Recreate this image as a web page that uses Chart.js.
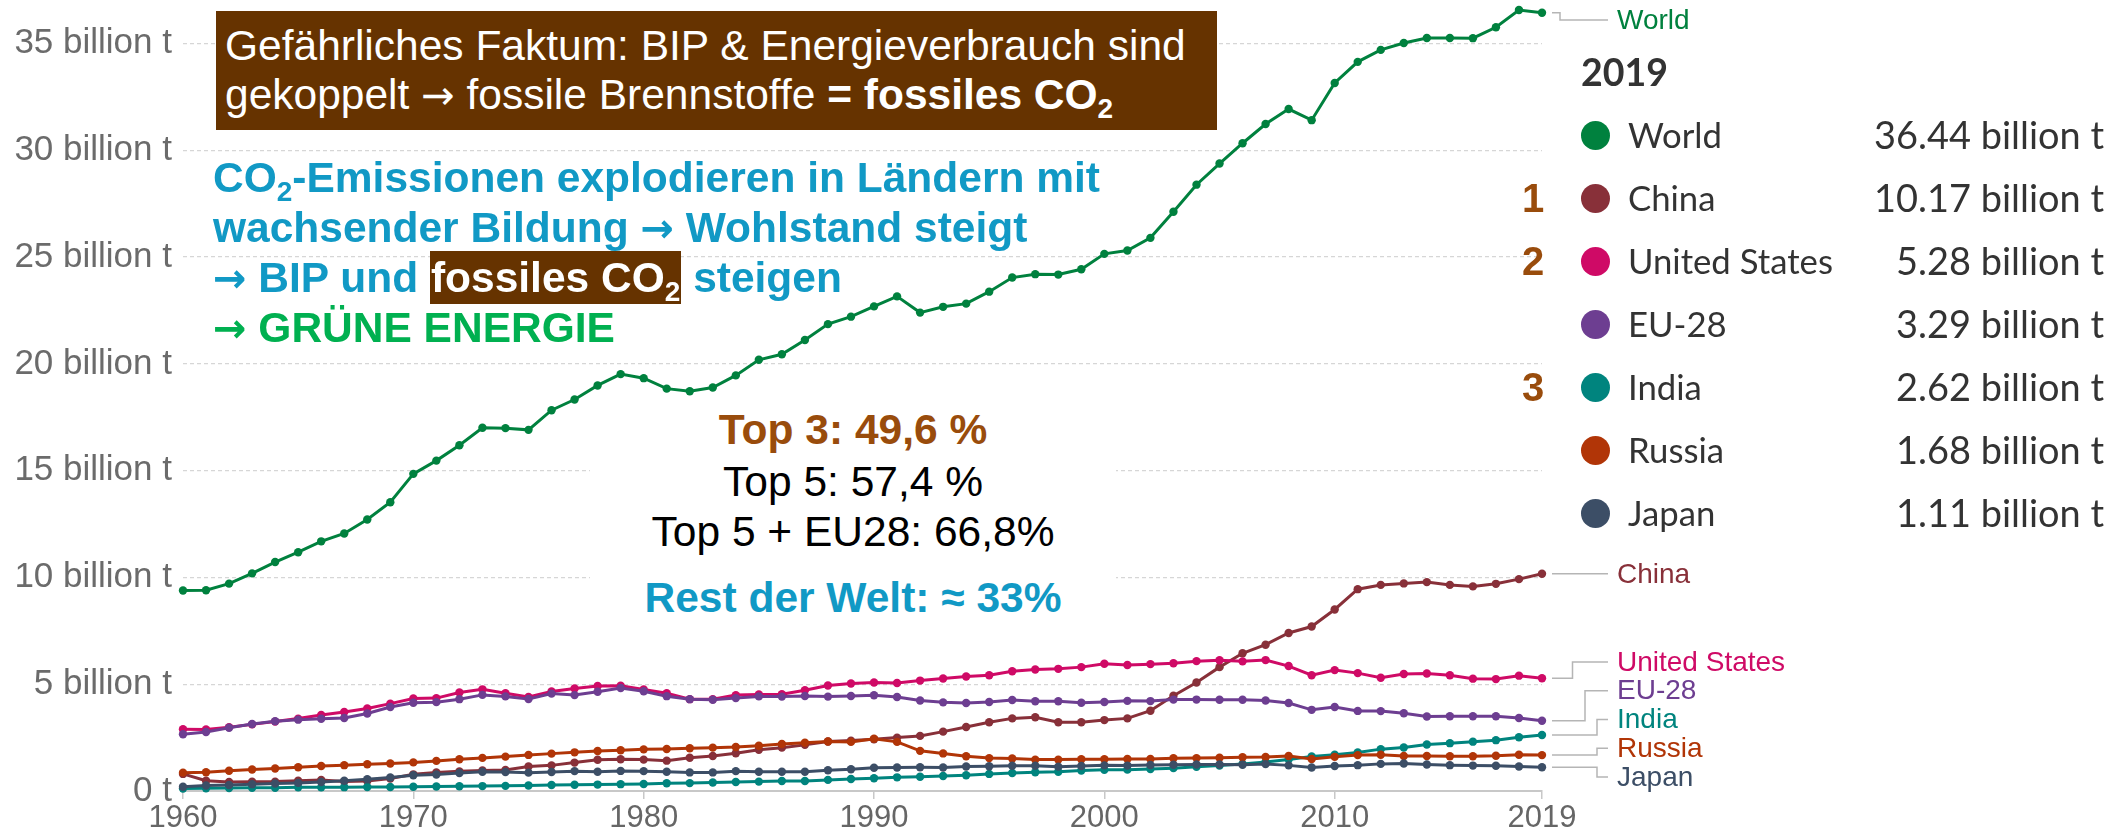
<!DOCTYPE html>
<html>
<head>
<meta charset="utf-8">
<script src="https://cdn.jsdelivr.net/npm/chart.js@4.4.1/dist/chart.umd.min.js"></script>
<style>
  body { margin: 0; background: #fff; }
  #wrap { position: relative; width: 2121px; height: 836px; overflow: hidden; font-family: "Liberation Sans", Arial, sans-serif; }
  #c { position: absolute; left: 0; top: 0; }
  .abs { position: absolute; white-space: nowrap; }
  .ln42 { font-size: 42.5px; line-height: 42px; }
  .b { font-weight: bold; }
  .sub { font-size: 28px; vertical-align: -9px; }
  .arr { font-family: "DejaVu Sans", sans-serif; font-size: 40px; }
  .lg { font-family: Lato, sans-serif; line-height: 40px; height: 40px; color: #333; }
  .dot { position: absolute; width: 29px; height: 29px; border-radius: 50%; }
  .rank { font-weight: bold; font-size: 40px; line-height: 40px; color: #994c0c; width: 30px; text-align: center; }
</style>
</head>
<body>
<div id="wrap">
  <canvas id="c" width="2121" height="836"></canvas>

  <!-- title box -->
  <div class="abs" style="left:216px; top:11px; width:1001px; height:119px; background:#663300;"></div>
  <div class="abs ln42" style="left:225px; top:25px; color:#fff;">Gefährliches Faktum: BIP &amp; Energieverbrauch sind</div>
  <div class="abs ln42" style="left:225px; top:74px; color:#fff;">gekoppelt <span class="arr" style="font-weight:normal;">→</span> fossile Brennstoffe <span class="b">= fossiles CO<span class="sub">2</span></span></div>

  <!-- blue statement -->
  <div class="abs ln42 b" style="left:213px; top:157px; color:#1199c5;">CO<span class="sub">2</span>-Emissionen explodieren in Ländern mit</div>
  <div class="abs ln42 b" style="left:213px; top:207px; color:#1199c5;">wachsender Bildung <span class="arr">→</span> Wohlstand steigt</div>
  <div class="abs ln42 b" style="left:213px; top:257px; color:#1199c5;"><span class="arr">→</span> BIP und <span style="background:#663300; color:#fff; padding:3px 1px;">fossiles CO<span class="sub">2</span></span> steigen</div>
  <div class="abs ln42 b" style="left:213px; top:307px; color:#00b050;"><span class="arr">→</span> GRÜNE ENERGIE</div>

  <!-- shares -->
  <div class="abs" style="left:590px; top:398px; width:526px; height:242px; background:#fff;"></div>
  <div class="abs ln42 b" style="left:590px; width:526px; text-align:center; top:409px; color:#994c0c;">Top 3: 49,6 %</div>
  <div class="abs ln42" style="left:590px; width:526px; text-align:center; top:461px; color:#000;">Top 5: 57,4 %</div>
  <div class="abs ln42" style="left:590px; width:526px; text-align:center; top:511px; color:#000;">Top 5 + EU28: 66,8%</div>
  <div class="abs ln42 b" style="left:590px; width:526px; text-align:center; top:577px; color:#1199c5;">Rest der Welt: ≈ 33%</div>

  <div id="legend"></div>
</div>

<script>
const years = [1960, 1961, 1962, 1963, 1964, 1965, 1966, 1967, 1968, 1969,
  1970, 1971, 1972, 1973, 1974, 1975, 1976, 1977, 1978, 1979,
  1980, 1981, 1982, 1983, 1984, 1985, 1986, 1987, 1988, 1989,
  1990, 1991, 1992, 1993, 1994, 1995, 1996, 1997, 1998, 1999,
  2000, 2001, 2002, 2003, 2004, 2005, 2006, 2007, 2008, 2009,
  2010, 2011, 2012, 2013, 2014, 2015, 2016, 2017, 2018, 2019];

// billion tonnes CO2
const world = [9.39, 9.40, 9.71, 10.19, 10.72, 11.18, 11.69, 12.06, 12.71, 13.52,
  14.85, 15.47, 16.19, 17.01, 16.99, 16.91, 17.83, 18.33, 18.99, 19.52,
  19.33, 18.84, 18.72, 18.89, 19.46, 20.19, 20.45, 21.12, 21.86, 22.21,
  22.69, 23.16, 22.40, 22.67, 22.82, 23.38, 24.04, 24.20, 24.18, 24.43,
  25.15, 25.31, 25.90, 27.12, 28.39, 29.38, 30.33, 31.23, 31.93, 31.41,
  33.15, 34.14, 34.70, 35.02, 35.26, 35.26, 35.25, 35.76, 36.57, 36.44];
const china = [0.80, 0.48, 0.42, 0.43, 0.44, 0.48, 0.52, 0.45, 0.47, 0.58,
  0.78, 0.87, 0.92, 0.96, 0.98, 1.15, 1.20, 1.33, 1.46, 1.49,
  1.47, 1.42, 1.56, 1.64, 1.77, 1.93, 2.03, 2.16, 2.32, 2.36,
  2.42, 2.50, 2.58, 2.78, 3.00, 3.22, 3.40, 3.45, 3.22, 3.22,
  3.32, 3.40, 3.76, 4.46, 5.08, 5.80, 6.45, 6.85, 7.40, 7.70,
  8.50, 9.45, 9.65, 9.72, 9.78, 9.65, 9.58, 9.70, 9.92, 10.17];
const usa = [2.89, 2.88, 2.99, 3.12, 3.25, 3.39, 3.56, 3.70, 3.86, 4.09,
  4.33, 4.35, 4.61, 4.76, 4.58, 4.40, 4.66, 4.80, 4.92, 4.93,
  4.75, 4.58, 4.30, 4.30, 4.49, 4.52, 4.53, 4.72, 4.94, 5.03,
  5.08, 5.06, 5.17, 5.27, 5.36, 5.42, 5.61, 5.69, 5.72, 5.80,
  5.96, 5.90, 5.94, 5.98, 6.08, 6.12, 6.07, 6.13, 5.85, 5.42,
  5.66, 5.52, 5.30, 5.48, 5.50, 5.42, 5.26, 5.24, 5.40, 5.28];
const eu28 = [2.66, 2.76, 2.96, 3.14, 3.27, 3.34, 3.38, 3.42, 3.63, 3.93,
  4.13, 4.16, 4.30, 4.50, 4.43, 4.31, 4.56, 4.49, 4.65, 4.82,
  4.67, 4.44, 4.30, 4.27, 4.35, 4.43, 4.42, 4.45, 4.42, 4.45,
  4.48, 4.40, 4.24, 4.15, 4.12, 4.17, 4.26, 4.20, 4.20, 4.13,
  4.17, 4.22, 4.21, 4.28, 4.28, 4.27, 4.27, 4.24, 4.12, 3.80,
  3.93, 3.75, 3.74, 3.64, 3.49, 3.50, 3.50, 3.50, 3.42, 3.29];
const india = [0.12, 0.13, 0.14, 0.15, 0.15, 0.17, 0.17, 0.18, 0.19, 0.19,
  0.20, 0.21, 0.22, 0.23, 0.24, 0.26, 0.28, 0.29, 0.30, 0.32,
  0.33, 0.36, 0.37, 0.40, 0.42, 0.44, 0.47, 0.47, 0.52, 0.56,
  0.60, 0.64, 0.67, 0.70, 0.74, 0.80, 0.84, 0.88, 0.90, 0.96,
  0.99, 1.00, 1.03, 1.07, 1.13, 1.19, 1.26, 1.36, 1.48, 1.62,
  1.70, 1.80, 1.96, 2.04, 2.18, 2.24, 2.31, 2.38, 2.52, 2.62];
const russia = [0.86, 0.88, 0.95, 1.01, 1.05, 1.11, 1.17, 1.21, 1.25, 1.29,
  1.34, 1.41, 1.49, 1.55, 1.61, 1.69, 1.75, 1.81, 1.87, 1.91,
  1.95, 1.97, 2.00, 2.03, 2.06, 2.12, 2.20, 2.26, 2.32, 2.30,
  2.45, 2.30, 1.88, 1.76, 1.63, 1.54, 1.52, 1.47, 1.47, 1.49,
  1.49, 1.50, 1.50, 1.53, 1.54, 1.56, 1.58, 1.59, 1.64, 1.50,
  1.60, 1.68, 1.70, 1.64, 1.64, 1.63, 1.63, 1.65, 1.70, 1.68];
const japan = [0.20, 0.26, 0.28, 0.32, 0.35, 0.38, 0.42, 0.48, 0.55, 0.63,
  0.74, 0.77, 0.84, 0.90, 0.89, 0.86, 0.89, 0.93, 0.90, 0.94,
  0.93, 0.90, 0.87, 0.87, 0.93, 0.90, 0.90, 0.90, 0.97, 1.02,
  1.09, 1.10, 1.11, 1.10, 1.15, 1.16, 1.18, 1.18, 1.14, 1.17,
  1.20, 1.19, 1.22, 1.23, 1.24, 1.24, 1.23, 1.26, 1.20, 1.10,
  1.17, 1.21, 1.27, 1.29, 1.24, 1.21, 1.19, 1.18, 1.15, 1.11];

const seriesNames = ["World", "China", "United States", "EU-28", "India", "Russia", "Japan"];
const seriesData = [world, china, usa, eu28, india, russia, japan];
const seriesColors = ["#00813e", "#883039", "#cf0a66", "#6d3e91", "#00847e", "#b13507", "#3c4e66"];
const legendValues = ["36.44 billion t", "10.17 billion t", "5.28 billion t", "3.29 billion t", "2.62 billion t", "1.68 billion t", "1.11 billion t"];
const ranks = ["", "1", "2", "", "3", "", ""];

const xTicks = [1960, 1970, 1980, 1990, 2000, 2010, 2019];
const yTicks = [0, 5, 10, 15, 20, 25, 30, 35];

// end-of-line labels with elbow connectors
const endLabels = {
  id: 'endLabels',
  afterDatasetsDraw(chart) {
    const ctx = chart.ctx;
    const items = chart.data.datasets.map((ds, i) => {
      const pts = chart.getDatasetMeta(i).data;
      const p = pts[pts.length - 1];
      return { name: ds.label, color: ds.borderColor, px: p.x, py: p.y, ly: p.y };
    });
    items.sort((a, b) => a.py - b.py);
    const gap = 28.75, minY = 20, maxY = 777;
    const clamp = () => items.forEach(it => it.ly = Math.min(maxY, Math.max(minY, it.ly)));
    clamp();
    for (let k = 0; k < 300; k++) {
      let moved = false;
      for (let i = 0; i < items.length - 1; i++) {
        const d = items[i + 1].ly - items[i].ly;
        if (d < gap - 0.01) {
          const s = (gap - d) / 2;
          items[i].ly -= s;
          items[i + 1].ly += s;
          moved = true;
        }
      }
      clamp();
      if (!moved) break;
    }
    ctx.save();
    ctx.strokeStyle = '#b5b5b5';
    ctx.lineWidth = 1.5;
    let bent = 0;
    items.forEach(it => {
      const x0 = it.px + 10, x2 = 1608;
      ctx.beginPath();
      ctx.moveTo(x0, it.py);
      if (Math.abs(it.ly - it.py) > 1) {
        const ex = Math.min(1597, 1560 + bent * 12.5);
        bent++;
        ctx.lineTo(ex, it.py);
        ctx.lineTo(ex, it.ly);
      }
      ctx.lineTo(x2, it.ly);
      ctx.stroke();
      ctx.fillStyle = it.color;
      ctx.font = '28px "Liberation Sans", Arial, sans-serif';
      ctx.textBaseline = 'middle';
      ctx.textAlign = 'left';
      ctx.fillText(it.name, 1617, it.ly + 1);
    });
    ctx.restore();
  }
};

const datasets = seriesNames.map((name, i) => ({
  label: name,
  data: seriesData[i].map((v, j) => ({ x: years[j], y: v })),
  borderColor: seriesColors[i],
  backgroundColor: seriesColors[i],
  pointBackgroundColor: seriesColors[i],
  pointBorderWidth: 0,
  pointRadius: 4.2,
  borderWidth: 3,
  tension: 0,
  clip: false
}));

new Chart(document.getElementById('c'), {
  type: 'line',
  data: { datasets: datasets.slice().reverse() },
  options: {
    responsive: false,
    animation: false,
    layout: { padding: { left: 0, right: 579, top: 0, bottom: 0 } },
    plugins: { legend: { display: false }, tooltip: { enabled: false } },
    scales: {
      x: {
        type: 'linear', min: 1960, max: 2019,
        afterBuildTicks: s => { s.ticks = xTicks.map(v => ({ value: v })); },
        afterFit: s => { s.height = 45; s.paddingLeft = 0; s.paddingRight = 0; },
        grid: { display: true, drawOnChartArea: false, drawTicks: true, tickLength: 8, color: '#c8c8c8', lineWidth: 1.5 },
        border: { display: true, color: '#c8c8c8', width: 2 },
        ticks: {
          color: '#666', padding: 1, maxRotation: 0, autoSkip: false,
          font: { family: '"Liberation Sans", Arial, sans-serif', size: 31 },
          callback: v => String(v)
        }
      },
      y: {
        min: 0, max: 36.84,
        afterBuildTicks: s => { s.ticks = yTicks.map(v => ({ value: v })); },
        afterFit: s => { s.width = 183; s.paddingTop = 0; s.paddingBottom = 0; },
        grid: { color: '#d6d6d6', lineWidth: 1.2, drawTicks: false },
        border: { display: false, dash: [4, 3] },
        ticks: {
          color: '#6b6b6b', padding: 11,
          font: { family: '"Liberation Sans", Arial, sans-serif', size: 35 },
          callback: v => v === 0 ? '0 t' : v + ' billion t'
        }
      }
    }
  },
  plugins: [endLabels]
});

// legend table (2019 values); font sizes fitted to the widths seen in the screenshot
const mctx = document.createElement('canvas').getContext('2d');
function fitSize(text, weight, base, target) {
  mctx.font = weight + ' ' + base + 'px Lato';
  return base * target / mctx.measureText(text).width;
}
const nameSize = fitSize('United States', 'normal', 32, 205);
const valueSize = fitSize('36.44 billion t', 'normal', 32, 230);
const yearSize = fitSize('2019', 'bold', 36, 87);

const legend = document.getElementById('legend');
let html = '<div class="abs" style="left:1581px; top:' + (87 - 0.9 * yearSize) + 'px; font-family:Lato, sans-serif; font-weight:bold; font-size:' + yearSize + 'px; line-height:' + yearSize + 'px; color:#333;">2019</div>';
seriesNames.forEach((name, i) => {
  const cy = 135 + i * 63;
  html += '<div class="dot" style="left:1581px; top:' + (cy - 14.5) + 'px; background:' + seriesColors[i] + ';"></div>';
  html += '<div class="abs lg" style="left:1628px; top:' + (cy - 20) + 'px; font-size:' + nameSize + 'px;">' + name + '</div>';
  html += '<div class="abs lg" style="right:17px; top:' + (cy - 20) + 'px; text-align:right; font-size:' + valueSize + 'px;">' + legendValues[i] + '</div>';
  if (ranks[i]) {
    html += '<div class="abs rank" style="left:1518px; top:' + (cy - 20) + 'px;">' + ranks[i] + '</div>';
  }
});
legend.innerHTML = html;
</script>
</body>
</html>
